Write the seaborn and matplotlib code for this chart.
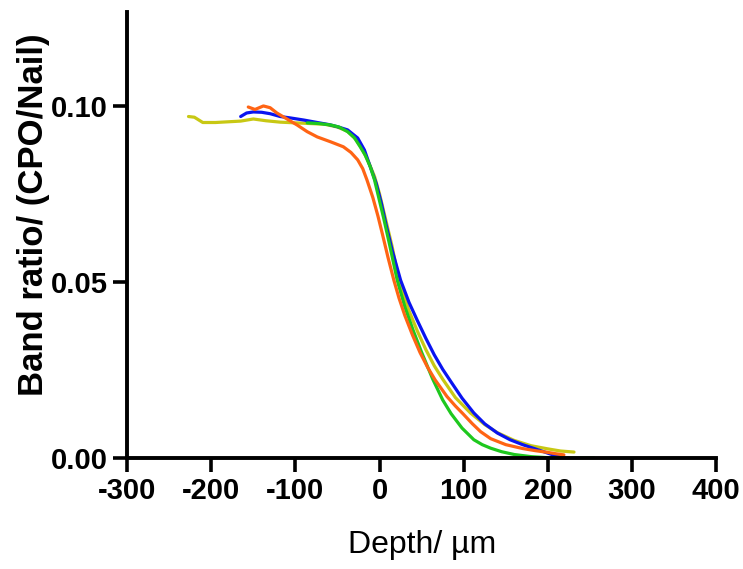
import numpy as np
import pandas as pd
import matplotlib
matplotlib.use("Agg")
import matplotlib.pyplot as plt
import seaborn as sns

# depth (um) and band ratio, one pair of lists per trace
blue_x = [-165, -158, -150, -140, -130, -118, -106, -90, -74, -60, -50, -38, -26, -18, -11, -4,
          2, 8, 15, 25, 35, 45, 55, 65, 75, 85, 98, 112, 125, 140, 155, 170, 180, 195, 207, 215]
blue_y = [0.0970, 0.0980, 0.0983, 0.0982, 0.0978, 0.0970, 0.0966, 0.0960, 0.0953, 0.0947, 0.0941,
          0.0932, 0.0909, 0.0875, 0.0827, 0.0780, 0.0725, 0.0660, 0.0590, 0.0505, 0.0442, 0.0390,
          0.0340, 0.0293, 0.0252, 0.0216, 0.0170, 0.0128, 0.0097, 0.0071, 0.0052, 0.0038, 0.0030,
          0.0018, 0.0008, 0.0004]

green_x = [-86, -72, -58, -48, -38, -30, -23, -17, -11, -6, -1, 5, 12, 21, 30, 40, 50, 63, 75,
           85, 98, 112, 122, 132, 145, 160, 180, 200, 225, 255]
green_y = [0.0952, 0.0950, 0.0946, 0.0940, 0.0927, 0.0910, 0.0884, 0.0860, 0.0827, 0.0790,
           0.0740, 0.0680, 0.0605, 0.0505, 0.0430, 0.0362, 0.0300, 0.0225, 0.0165, 0.0126,
           0.0085, 0.0052, 0.0038, 0.0028, 0.0018, 0.0010, 0.0004, 0.0001, 0.0, 0.0]

orange_x = [-156, -148, -138, -130, -122, -110, -98, -86, -74, -58, -43, -34, -26, -20, -15, -8,
            -2, 4, 10, 17, 23, 30, 39, 48, 57, 66, 80, 90, 99, 110, 120, 132, 150, 170, 185,
            200, 210, 219]
orange_y = [0.0997, 0.0990, 0.1000, 0.0995, 0.0980, 0.0963, 0.0946, 0.0927, 0.0912, 0.0898,
            0.0884, 0.0868, 0.0847, 0.0822, 0.0790, 0.0740, 0.0688, 0.0630, 0.0570, 0.0505,
            0.0455, 0.0405, 0.0350, 0.0300, 0.0258, 0.0222, 0.0175, 0.0148, 0.0126, 0.0098,
            0.0075, 0.0055, 0.0038, 0.0027, 0.0021, 0.0016, 0.0012, 0.0009]

yellow_x = [-227, -220, -210, -195, -180, -165, -150, -135, -118, -100, -82, -65, -50, -38, -28,
            -20, -13, -6, 0, 8, 15, 23, 35, 45, 55, 65, 75, 90, 108, 125, 140, 160, 180, 200,
            215, 231]
yellow_y = [0.0970, 0.0968, 0.0953, 0.0953, 0.0955, 0.0957, 0.0963, 0.0958, 0.0954, 0.0952,
            0.0950, 0.0948, 0.0940, 0.0928, 0.0905, 0.0875, 0.0840, 0.0800, 0.0750, 0.0670,
            0.0600, 0.0505, 0.0418, 0.0360, 0.0308, 0.0262, 0.0224, 0.0172, 0.0128, 0.0095,
            0.0072, 0.0050, 0.0035, 0.0026, 0.0020, 0.0017]

traces = {
    "yellow": (yellow_x, yellow_y),
    "blue": (blue_x, blue_y),
    "green": (green_x, green_y),
    "orange": (orange_x, orange_y),
}
palette = {"yellow": "#c8c814", "blue": "#0a14f0", "green": "#1ec81e", "orange": "#ff6414"}

x_ticks = [-300, -200, -100, 0, 100, 200, 300, 400]
y_ticks = [0.00, 0.05, 0.10]

frames = []
for name, (xs, ys) in traces.items():
    frames.append(pd.DataFrame({"depth": xs, "ratio": ys, "trace": name}))
df = pd.concat(frames, ignore_index=True)

sns.set_style("ticks")
plt.rcParams["font.family"] = ["Liberation Sans", "DejaVu Sans"]
plt.rcParams["axes.unicode_minus"] = False
plt.rcParams["text.color"] = "black"
plt.rcParams["axes.labelcolor"] = "black"
plt.rcParams["xtick.color"] = "black"
plt.rcParams["ytick.color"] = "black"

fig = plt.figure(figsize=(7.43, 5.69), dpi=100)
ax = fig.add_axes([0.171, 0.195, 0.793, 0.784])

sns.lineplot(data=df, x="depth", y="ratio", hue="trace", palette=palette,
             sort=False, estimator=None, linewidth=2.3, legend=False, ax=ax)

ax.set_xlim(-300, 400)
ax.set_ylim(0, 0.1267)
ax.set_xticks(x_ticks)
ax.set_xticklabels([str(v) for v in x_ticks])
ax.set_yticks(y_ticks)
ax.set_yticklabels([f"{v:.2f}" for v in y_ticks])
ax.tick_params(axis="both", direction="out", length=10, width=2.6, labelsize=21,
               labelcolor="black", color="black", pad=4)
for lab in ax.get_xticklabels() + ax.get_yticklabels():
    lab.set_fontweight("bold")

for side in ["top", "right"]:
    ax.spines[side].set_visible(False)
for side in ["left", "bottom"]:
    ax.spines[side].set_linewidth(2.8)
    ax.spines[side].set_color("black")

ax.set_xlabel("Depth/ µm", fontsize=23, labelpad=18)
ax.set_ylabel("Band ratio/ (CPO/Nail)", fontsize=25, fontweight="bold")
ax.yaxis.set_label_coords(-0.13, 0.545)

fig.savefig("out.png", dpi=100)
